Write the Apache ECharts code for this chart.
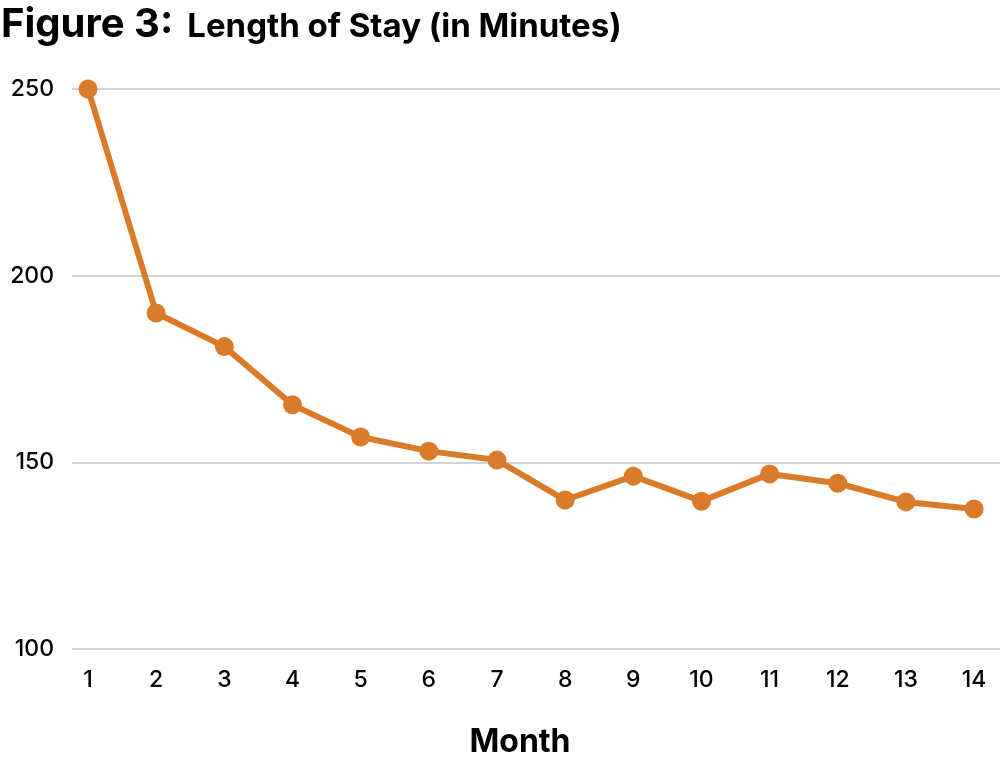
<!DOCTYPE html>
<html>
<head>
<meta charset="utf-8">
<script src="https://cdn.jsdelivr.net/npm/echarts@6/dist/echarts.min.js"></script>
<style>
  html, body { margin: 0; padding: 0; background: #fff; }
  #chart { width: 1000px; height: 765px; }
</style>
</head>
<body>
<div id="chart"></div>
<script>
// 数据
const months = [1, 2, 3, 4, 5, 6, 7, 8, 9, 10, 11, 12, 13, 14];
const stayMinutes = [250, 190, 181, 165.4, 156.8, 153, 150.6, 139.9, 146.3, 139.6, 146.9, 144.4, 139.4, 137.5];
const yTicks = [100, 150, 200, 250];

const font = 'Inter, "Noto Sans", sans-serif';
const chart = echarts.init(document.getElementById('chart'));

chart.setOption({
    animation: false,
    title: {
        left: -4,
        top: 0,
        text: '{a|Figure 3:}{b|Length of Stay (in Minutes)}',
        textStyle: {
            rich: {
                a: { fontFamily: font, fontWeight: 'bold', fontSize: 40, color: '#000' },
                b: { fontFamily: font, fontWeight: 'bold', fontSize: 33, color: '#000', padding: [4, 0, 0, 14] }
            }
        }
    },
    graphic: [{
        type: 'text',
        style: {
            text: 'Month',
            x: 520,
            y: 742,
            align: 'center',
            verticalAlign: 'middle',
            font: 'bold 32px ' + font,
            fill: '#000'
        }
    }],
    grid: { left: 72, right: 0, top: 89, bottom: 116, containLabel: false },
    xAxis: {
        type: 'value',
        min: 0.765,
        max: 14.38,
        axisLine: { show: false },
        axisTick: { show: false },
        splitLine: { show: false },
        axisLabel: {
            customValues: months,
            margin: 20,
            fontFamily: font,
            fontSize: 23,
            fontWeight: 500,
            color: '#000'
        }
    },
    yAxis: {
        type: 'value',
        min: yTicks[0],
        max: yTicks[yTicks.length - 1],
        interval: 50,
        axisLine: { show: false },
        axisTick: { show: false },
        splitLine: { lineStyle: { color: '#d3d3d3', width: 2 } },
        axisLabel: {
            margin: 18,
            fontFamily: font,
            fontSize: 23,
            fontWeight: 500,
            color: '#000'
        }
    },
    series: [{
        type: 'line',
        data: months.map((m, i) => [m, stayMinutes[i]]),
        symbol: 'circle',
        symbolSize: 19,
        lineStyle: { color: '#d97b2a', width: 6 },
        itemStyle: { color: '#d97b2a' }
    }]
});
</script>
</body>
</html>
